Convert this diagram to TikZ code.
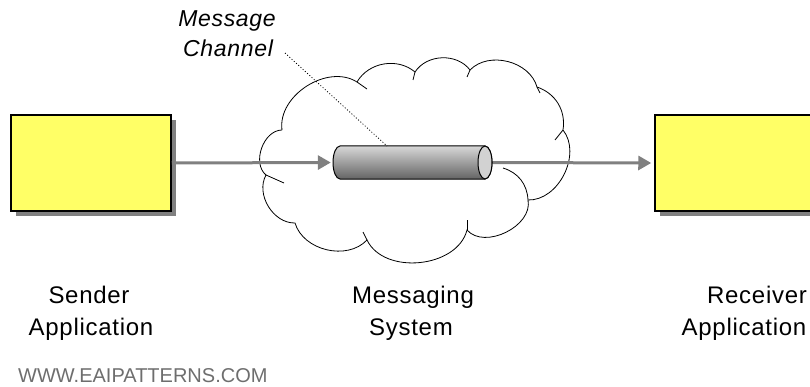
\documentclass[tikz,border=0pt]{standalone}
\usepackage{fontspec}
\setmainfont{Liberation Sans}
\newfontfamily\labelfont[LetterSpace=3]{Liberation Sans}
\usetikzlibrary{arrows.meta}
\definecolor{boxyellow}{RGB}{255,255,102}
\definecolor{linegray}{RGB}{128,128,128}
\definecolor{shadowgray}{RGB}{128,128,128}
\definecolor{cyltop}{RGB}{215,215,215}
\definecolor{cylbot}{RGB}{100,100,100}
\definecolor{cylend}{RGB}{210,210,210}
\definecolor{wwwgray}{RGB}{110,110,110}
\begin{document}
\begin{tikzpicture}[x=1pt,y=1pt,
  appbox/.style={draw=black, line width=1.5pt, fill=boxyellow, inner sep=0,
    minimum height=96pt,
    preaction={fill=shadowgray, transform canvas={shift={(5pt,-5pt)}}}},
  flow/.style={draw=linegray, line width=3pt, -{Triangle[length=13pt,width=14pt]}},
  lbl/.style={font=\labelfont\fontsize{24}{30}\selectfont, anchor=base, inner sep=0},
  chanlbl/.style={font=\labelfont\itshape\fontsize{23}{30}\selectfont, anchor=base, inner sep=0},
  cloudline/.style={draw=black, line width=0.8pt},
  pointer/.style={draw=black, line width=0.8pt, dash pattern=on 1pt off 2pt}
]
\useasboundingbox (0,0) rectangle (810,386);
\clip (0,0) rectangle (810,386);

% boxes
\node[appbox, minimum width=160pt] (sender) at (91,223) {};
\node[appbox, minimum width=165pt] (receiver) at (737.5,223) {};

% cloud
\path[cloudline, fill=white] (282,256) to[bend left=65] (357,304) to[bend left=50] (415,314)
  to[bend left=55] (470,316) to[bend left=60] (537,299) to[bend left=40] (563,256)
  to[bend left=65] (528,186) to[bend left=75] (467,156) to[bend left=70] (367,146)
  to[bend left=60] (295,163) to[bend left=60] (266,211) to[bend left=70] (282,256);
\draw[cloudline] (357,304) -- ++(10,-7);
\draw[cloudline] (415,314) -- ++(-2,-8);
\draw[cloudline] (470,316) -- ++(-3,-7);
\draw[cloudline] (537,299) -- ++(3,-6);
\draw[cloudline] (563,256) -- ++(-8,-10);
\draw[cloudline] (528,186) to[bend right=35] (503,218);
\draw[cloudline] (467,156) -- ++(0,10);
\draw[cloudline] (367,146) -- ++(-4,8);
\draw[cloudline] (266,211) -- ++(18,-8);

% cylinder
\node[inner sep=0, minimum width=159pt, minimum height=33pt] (cyl) at (412.5,223.5) {};
\coordinate (cyltopc) at (387,240);

% flows
\draw[flow, shorten >=2pt] (sender.east) -- (cyl.west);
\draw[flow, shorten >=3pt] (cyl.east) -- (receiver.west);

\shade[top color=cyltop, bottom color=cylbot, draw=black, line width=1pt]
  (340,240) -- (485,240) arc[start angle=90, end angle=-90, x radius=7, y radius=16.5]
  -- (340,207) arc[start angle=270, end angle=90, x radius=7, y radius=16.5] -- cycle;
\draw[fill=cylend, line width=1pt] (485,223.5) ellipse[x radius=7, y radius=16.5];

% channel label
\node[chanlbl] (msg) at (227,359) {Message};
\node[chanlbl] (chan) at (228,329) {Channel};
\coordinate (chanend) at (285,333);
\draw[pointer] (chanend) -- (cyltopc);

% labels
\node[lbl] (s1) at (89,83) {Sender};
\node[lbl] (s2) at (91,51) {Application};
\node[lbl] (m1) at (413,83) {Messaging};
\node[lbl] (m2) at (411,51) {System};
\node[lbl] (r1) at (757,83) {Receiver};
\node[lbl] (r2) at (744,51) {Application};

\node[font=\fontsize{20}{24}\selectfont, text=wwwgray, anchor=base west, inner sep=0] (www) at (18,4) {WWW.EAIPATTERNS.COM};
\end{tikzpicture}
\end{document}
